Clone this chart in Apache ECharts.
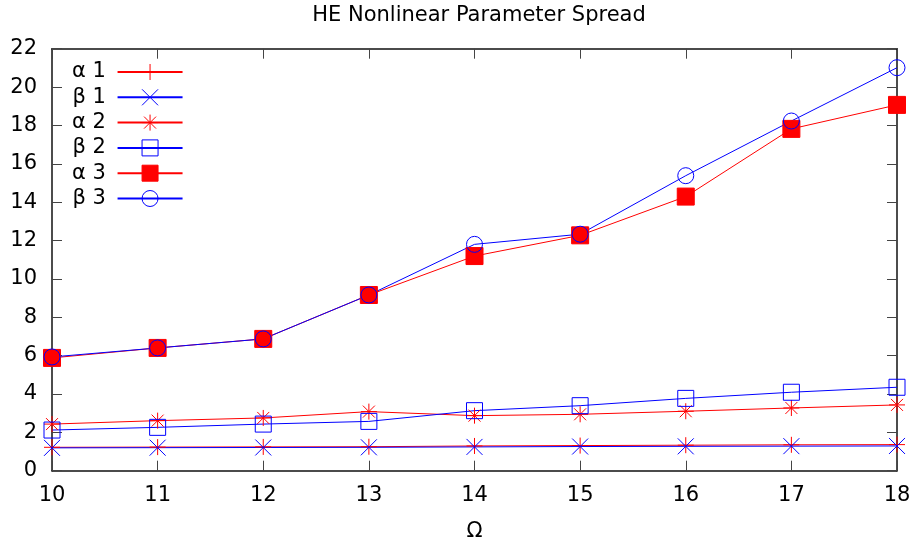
<!DOCTYPE html>
<html><head><meta charset="utf-8">
<script src="https://cdn.jsdelivr.net/npm/echarts@6/dist/echarts.min.js"></script>
<style>html,body{margin:0;padding:0;background:#fff}#c{width:918px;height:550px}</style>
</head><body><div id="c"></div>
<script>
const omega = [10, 11, 12, 13, 14, 15, 16, 17, 18];
const alpha1 = [1.22, 1.23, 1.24, 1.25, 1.29, 1.31, 1.33, 1.35, 1.36];
const beta1  = [1.19, 1.20, 1.21, 1.22, 1.24, 1.26, 1.27, 1.28, 1.29];
const alpha2 = [2.43, 2.61, 2.75, 3.08, 2.87, 2.94, 3.10, 3.27, 3.43];
const beta2  = [2.12, 2.26, 2.43, 2.57, 3.13, 3.39, 3.77, 4.09, 4.35];
const alpha3 = [5.88, 6.40, 6.87, 9.16, 11.19, 12.27, 14.29, 17.82, 19.07];
const beta3  = [5.93, 6.40, 6.87, 9.16, 11.80, 12.33, 15.38, 18.23, 21.01];
const seriesNames = ['α 1', 'β 1', 'α 2', 'β 2', 'α 3', 'β 3'];

const RED = '#ff0000', BLUE = '#0000ff';
const PLUS = 'path://M0,-1L0,1M-1,0L1,0';
const CROSS = 'path://M-1,-1L1,1M-1,1L1,-1';
const STAR = 'path://M0,-1L0,1M-1,0L1,0M-0.75,-0.75L0.75,0.75M-0.75,0.75L0.75,-0.75';
const RECT = 'path://M-1,-1L1,-1L1,1L-1,1Z';

function pairs(ys){ return omega.map((x,i)=>[x, ys[i]]); }
function mk(name, ys, color, symbol, size, filled){
  return {
    name, type:'line', data: pairs(ys), symbol, symbolSize: size,
    showAllSymbol: true,
    lineStyle:{color, width:1},
    itemStyle:{color: filled ? color : 'rgba(0,0,0,0)', borderColor: color, borderWidth: 1},
    emphasis:{disabled:true}, animation:false
  };
}
const font = 'DejaVu Sans';
const FS = 21;
const axisCol = '#111';
const option = {
  animation:false,
  title:{text:'HE Nonlinear Parameter Spread', left:474, top:0, textAlign:'center',
    textStyle:{fontFamily:font, fontSize:21, fontWeight:'normal', color:'#000'}},
  legend:{
    left:72, top:61.5, padding:0, orient:'vertical', align:'right', itemWidth:65, itemHeight:20, itemGap:4.3,
    itemStyle:{borderWidth:1},
    formatter: name => name + ' ',
    textStyle:{fontFamily:font, fontSize:FS, color:'#000'},
    data: seriesNames
  },
  grid:{left:52, right:21, top:48.7, bottom:79.3, containLabel:false},
  xAxis:[{
    type:'value', min:10, max:18, interval:1, name:'Ω', nameLocation:'middle', nameGap:50,
    nameTextStyle:{fontFamily:font, fontSize:FS, color:'#000'},
    axisLine:{show:true, onZero:false, lineStyle:{color:axisCol, width:1.5}},
    axisTick:{show:true, inside:true, length:10, lineStyle:{color:'#444'}},
    axisLabel:{fontFamily:font, fontSize:FS, color:'#000', margin:14},
    splitLine:{show:false}
  },{
    type:'value', min:10, max:18, interval:1, position:'top',
    axisLine:{show:true, onZero:false, lineStyle:{color:axisCol, width:1.5}},
    axisTick:{show:true, inside:true, length:10, lineStyle:{color:'#444'}},
    axisLabel:{show:false}, splitLine:{show:false}
  }],
  yAxis:[{
    type:'value', min:0, max:22, interval:2,
    axisLine:{show:true, onZero:false, lineStyle:{color:axisCol, width:1.5}},
    axisTick:{show:true, inside:true, length:10, lineStyle:{color:'#444'}},
    axisLabel:{fontFamily:font, fontSize:FS, color:'#000', margin:15},
    splitLine:{show:false}
  },{
    type:'value', min:0, max:22, interval:2, position:'right',
    axisLine:{show:true, onZero:false, lineStyle:{color:axisCol, width:1.5}},
    axisTick:{show:true, inside:true, length:10, lineStyle:{color:'#444'}},
    axisLabel:{show:false}, splitLine:{show:false}
  }],
  series:[
    mk(seriesNames[0], alpha1, RED, PLUS, 16, true),
    mk(seriesNames[1], beta1, BLUE, CROSS, 16, true),
    mk(seriesNames[2], alpha2, RED, STAR, 16, true),
    mk(seriesNames[3], beta2, BLUE, RECT, 16, false),
    mk(seriesNames[4], alpha3, RED, 'rect', 17, true),
    mk(seriesNames[5], beta3, BLUE, 'circle', 16, false)
  ]
};
const chart = echarts.init(document.getElementById('c'), null, {renderer:'canvas'});
chart.setOption(option);
</script></body></html>
